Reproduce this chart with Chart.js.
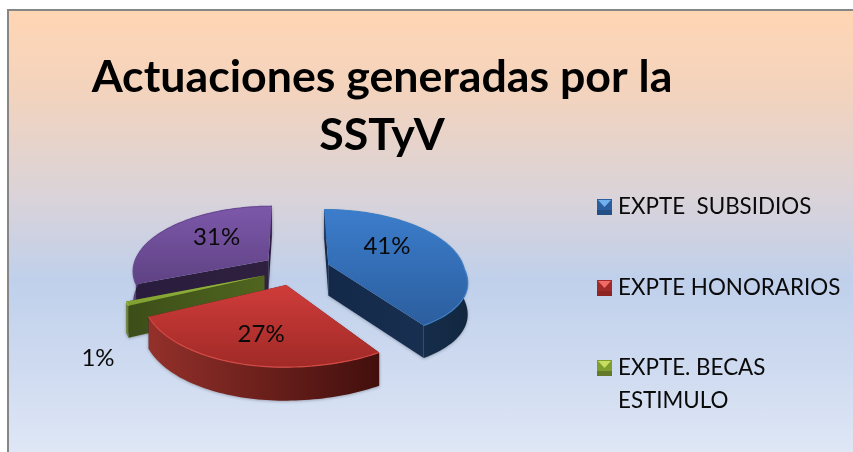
<!DOCTYPE html>
<html><head><meta charset="utf-8">
<script src="https://cdn.jsdelivr.net/npm/chart.js@4"></script>
<style>
html,body{margin:0;padding:0;background:#fff;overflow:hidden}
#frame{position:absolute;left:7px;top:9px;width:846px;height:443px;box-sizing:border-box;border-left:2px solid #868686;border-top:2px solid #868686;
background:linear-gradient(180deg,#FFD6B4 0%,#F3D3BD 18%,#DAD3D9 42%,#C0D0EB 61%,#CFDBF0 82%,#DFE7F6 100%)}
canvas{position:absolute;left:0;top:0}
</style></head><body>
<div id="frame"></div>
<canvas id="c" width="853" height="452"></canvas>
<script>
const categories = ['EXPTE  SUBSIDIOS', 'EXPTE HONORARIOS', 'EXPTE. BECAS ESTIMULO', ''];
const values = [41, 27, 1, 31];
const titleLines = ['Actuaciones generadas por la', 'SSTyV'];
const legendLines = [['EXPTE  SUBSIDIOS'], ['EXPTE HONORARIOS'], ['EXPTE. BECAS', 'ESTIMULO']];

const palette = [
  {base:'#2F66A8', top:['#3C7DCC','#2B5E9E'], edge:'#3F7FC4', wall:['#1E3E66','#12263F'], cut:['#14294A','#172F50'], sw:['#6FB0EE','#234F86']},
  {base:'#B8302D', top:['#CF3C3A','#A02A27'], edge:'#D24A46', wall:['#94302A','#420F0D'], cut:['#5A1512','#5A1512'], sw:['#F06A66','#8E2522']},
  {base:'#7F9B33', top:['#9ABB40','#7E9E30'], edge:'#9ABB40', wall:['#7C9A32','#5A7024'], cut:['#3C4E18','#50651F'], sw:['#C6DD5E','#64792A']},
  {base:'#6A4A94', top:['#7D58AA','#5F4284'], edge:'#6A4A94', wall:['#5C4180','#3D2A58'], cut:['#2A1C3C','#2F2040'], sw:['#A080D0','#50366F']}
];
const labelNudge = [[-4,-10],[-3,13],[0,0],[0,-6]];
const labelFree = [null,null,[98,358],null];

const YS = 0.474, PERSP = 0.15, DEPTH = 31, NEAR_RIGHT = 0.09;

const project = (arc,u,v,down)=>{
  const r = arc.outerRadius, w = 1-PERSP*v;
  const d = down ? DEPTH+2*v : 0;
  const stretch = u>0 ? 1+NEAR_RIGHT*Math.max(v,0) : 1;
  return [arc.x+r*u*stretch/w, arc.y+r*YS*v/w+d];
};

const pie3d = {
  id:'pie3d',
  beforeDatasetsDraw(chart){
    const ctx = chart.ctx, meta = chart.getDatasetMeta(0);
    const items = meta.data.map((arc,i)=>({arc,i,mid:arc.startAngle+(arc.endAngle-arc.startAngle)/2}));
    items.sort((a,b)=>Math.sin(a.mid)-Math.sin(b.mid));
    items.forEach(({arc,i,mid})=>{
      const r = arc.outerRadius, e = arc.options.offset/r, pal = palette[i];
      const ou = Math.cos(mid)*e, ov = Math.sin(mid)*e;
      const P = (u,v,down)=>project(arc,u,v,down);
      const rim = [];
      const n = Math.max(4,Math.ceil((arc.endAngle-arc.startAngle)*40));
      for(let k=0;k<=n;k++){
        const a = arc.startAngle+(arc.endAngle-arc.startAngle)*k/n;
        rim.push([ou+Math.cos(a),ov+Math.sin(a)]);
      }
      const apex=[ou,ov];
      const poly=(pts)=>{ctx.beginPath();pts.forEach((p,j)=>j?ctx.lineTo(p[0],p[1]):ctx.moveTo(p[0],p[1]));ctx.closePath();};
      const hGrad=(pts,c)=>{
        const xs=pts.map(p=>p[0]);
        const g=ctx.createLinearGradient(Math.min(...xs),0,Math.max(...xs),0);
        g.addColorStop(0,c[0]);g.addColorStop(1,c[1]);return g;
      };
      ctx.save();
      ctx.shadowColor='rgba(60,60,70,0.35)';ctx.shadowBlur=3;ctx.shadowOffsetY=1;
      [rim[0],rim[rim.length-1]].forEach(q=>{
        const pts=[P(apex[0],apex[1]),P(q[0],q[1]),P(q[0],q[1],true),P(apex[0],apex[1],true)];
        poly(pts);ctx.fillStyle=hGrad(pts,pal.cut);ctx.fill();
      });
      const up=rim.map(q=>P(q[0],q[1]));
      const dn=rim.map(q=>P(q[0],q[1],true)).reverse();
      const wallPts=up.concat(dn);
      poly(wallPts);ctx.fillStyle=hGrad(wallPts,pal.wall);ctx.fill();
      ctx.restore();
      const topPts=[P(apex[0],apex[1])].concat(up);
      poly(topPts);
      const ys=topPts.map(p=>p[1]);
      const g=ctx.createLinearGradient(0,Math.min(...ys),0,Math.max(...ys));
      g.addColorStop(0,pal.top[0]);g.addColorStop(1,pal.top[1]);
      ctx.fillStyle=g;ctx.fill();
      ctx.beginPath();up.forEach((p,j)=>j?ctx.lineTo(p[0],p[1]):ctx.moveTo(p[0],p[1]));
      ctx.strokeStyle=pal.edge;ctx.lineWidth=1.2;ctx.stroke();
    });
    ctx.save();
    ctx.font='24px Lato';ctx.fillStyle='#0a0a0a';ctx.textAlign='center';ctx.textBaseline='middle';
    const total=values.reduce((a,b)=>a+b,0);
    meta.data.forEach((arc,i)=>{
      const mid=arc.startAngle+(arc.endAngle-arc.startAngle)/2;
      const r=arc.outerRadius,e=arc.options.offset/r,t=e+0.5;
      const u=Math.cos(mid)*t,v=Math.sin(mid)*t,w=1-PERSP*v;
      let x=arc.x+r*u/w+labelNudge[i][0],y=arc.y+r*YS*v/w+labelNudge[i][1];
      if(labelFree[i]){x=labelFree[i][0];y=labelFree[i][1];}
      ctx.fillText(Math.round(values[i]/total*100)+'%',x,y);
    });
    ctx.restore();
    ctx.save();
    ctx.font='22.4px Lato';ctx.textAlign='left';ctx.textBaseline='middle';
    const rows=[207,288,368];
    legendLines.forEach((lines,i)=>{
      const y=rows[i],pal=palette[i],x0=597,s=15;
      ctx.fillStyle=pal.top[1];ctx.fillRect(x0,y-8,s,s+1);
      ctx.fillStyle=pal.sw[0];ctx.beginPath();ctx.moveTo(x0+1,y-7);ctx.lineTo(x0+s-1,y-7);ctx.lineTo(x0+s/2,y);ctx.closePath();ctx.fill();
      ctx.fillStyle=pal.sw[1];ctx.fillRect(x0,y+3,s,5);
      ctx.fillStyle='#0a0a0a';
      lines.forEach((t,j)=>ctx.fillText(t,618,y+j*33));
    });
    ctx.restore();
    return false;
  }
};

Chart.register(pie3d);
new Chart(document.getElementById('c'),{
  type:'pie',
  data:{labels:categories,datasets:[{data:values,backgroundColor:palette.map(p=>p.base),borderWidth:0,offset:34,radius:136}]},
  options:{
    responsive:false,animation:false,
    layout:{padding:{left:156,right:417,top:129,bottom:43}},
    plugins:{legend:{display:false},tooltip:{enabled:false},title:{display:false}}
  },
  plugins:[{
    id:'titleText',
    afterDraw(chart){
      const ctx=chart.ctx;ctx.save();
      ctx.font='bold 44.7px Lato';ctx.fillStyle='#000';ctx.textAlign='center';ctx.textBaseline='middle';
      ctx.fillText(titleLines[0],382,78);ctx.fillText(titleLines[1],382,136);
      ctx.restore();
    }
  }]
});
</script>
</body></html>
